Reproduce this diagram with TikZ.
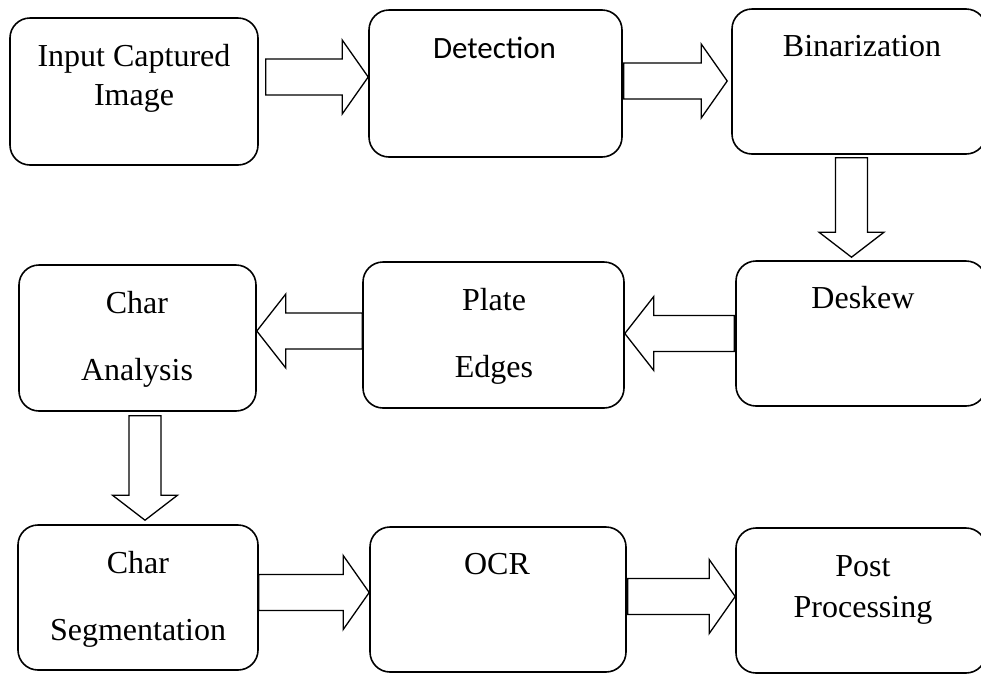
\documentclass[tikz,border=0pt]{standalone}
\usepackage{fontspec}
\setmainfont{Liberation Serif}
\newfontfamily\detfont{Carlito}
\usetikzlibrary{calc}
\tikzset{
  box/.style={draw=black, line width=1.6pt, rounded corners=20pt, fill=white, inner sep=0pt},
  txt/.style={anchor=base, inner sep=0pt, font=\fontsize{32}{38}\selectfont},
  dtxt/.style={anchor=base, inner sep=0pt, font=\detfont\fontsize{31}{37}\selectfont},
  blk/.style={draw=black, line width=1.3pt, fill=white, line join=miter},
  arrR/.style={to path={let \p1=(\tikztostart), \p2=(\tikztotarget) in
    (\x1,\y1+18pt) -- (\x2-26pt,\y1+18pt) -- (\x2-26pt,\y1+37pt) -- (\x2,\y1)
    -- (\x2-26pt,\y1-37pt) -- (\x2-26pt,\y1-18pt) -- (\x1,\y1-18pt) -- cycle}},
  arrL/.style={to path={let \p1=(\tikztostart), \p2=(\tikztotarget) in
    (\x1,\y1+18pt) -- (\x2+29pt,\y1+18pt) -- (\x2+29pt,\y1+37pt) -- (\x2,\y1)
    -- (\x2+29pt,\y1-37pt) -- (\x2+29pt,\y1-18pt) -- (\x1,\y1-18pt) -- cycle}},
  arrD/.style={to path={let \p1=(\tikztostart), \p2=(\tikztotarget) in
    (\x1-16pt,\y1) -- (\x1-16pt,\y2+25pt) -- (\x1-32.5pt,\y2+25pt) -- (\x1,\y2)
    -- (\x1+32.5pt,\y2+25pt) -- (\x1+16pt,\y2+25pt) -- (\x1+16pt,\y1) -- cycle}}
}
\begin{document}
\begin{tikzpicture}[x=1pt,y=-1pt]
\useasboundingbox (0,0) rectangle (981,673);
% boxes
\node[box, minimum width=248pt, minimum height=147pt] (b1) at (134,91.5) {};
\node[box, minimum width=253pt, minimum height=147pt] (b2) at (495.5,83.5) {};
\node[box, minimum width=254pt, minimum height=145pt] (b3) at (859,81.5) {};
\node[box, minimum width=250pt, minimum height=145pt] (b6) at (861,333.5) {};
\node[box, minimum width=261pt, minimum height=146pt] (b5) at (493.5,335) {};
\node[box, minimum width=237pt, minimum height=146pt] (b4) at (137.5,338) {};
\node[box, minimum width=240pt, minimum height=145pt] (b7) at (138,597.5) {};
\node[box, minimum width=256pt, minimum height=145pt] (b8) at (498,599.5) {};
\node[box, minimum width=250pt, minimum height=145pt] (b9) at (861,600.5) {};
% texts
\node[txt] (t1a) at (134,66) {Input Captured};
\node[txt] (t1b) at (134,105) {Image};
\node[dtxt] (t2) at (494.5,58) {Detection};
\node[txt] (t3) at (862,56) {Binarization};
\node[txt] (t6) at (863,308) {Deskew};
\node[txt] (t5a) at (494,310) {Plate};
\node[txt] (t5b) at (494,377) {Edges};
\node[txt] (t4a) at (137,313) {Char};
\node[txt] (t4b) at (137,380) {Analysis};
\node[txt] (t7a) at (138,573) {Char};
\node[txt] (t7b) at (138,640) {Segmentation};
\node[txt] (t8) at (497,574) {OCR};
\node[txt] (t9a) at (863,576) {Post};
\node[txt] (t9b) at (863,617) {Processing};
% block arrows
\draw[blk] ([xshift=7pt,yshift=14.5pt]b1.east) to[arrR] (b2.west);
\draw[blk] ([xshift=1pt,yshift=2.5pt]b2.east) to[arrR] ([xshift=-4pt]b3.west);
\draw[blk] ([xshift=-7.5pt,yshift=-3pt]b3.south) to[arrD] ([yshift=3pt]b6.north);
\draw[blk] ([xshift=-1pt]b6.west) to[arrL] (b5.east);
\draw[blk] ([yshift=4pt]b5.west) to[arrL] (b4.east);
\draw[blk] ([xshift=7.5pt,yshift=-4pt]b4.south) to[arrD] ([yshift=4pt]b7.north);
\draw[blk] ([yshift=5pt]b7.east) to[arrR] (b8.west);
\draw[blk] ([xshift=1pt,yshift=3pt]b8.east) to[arrR] (b9.west);
\end{tikzpicture}
\end{document}
